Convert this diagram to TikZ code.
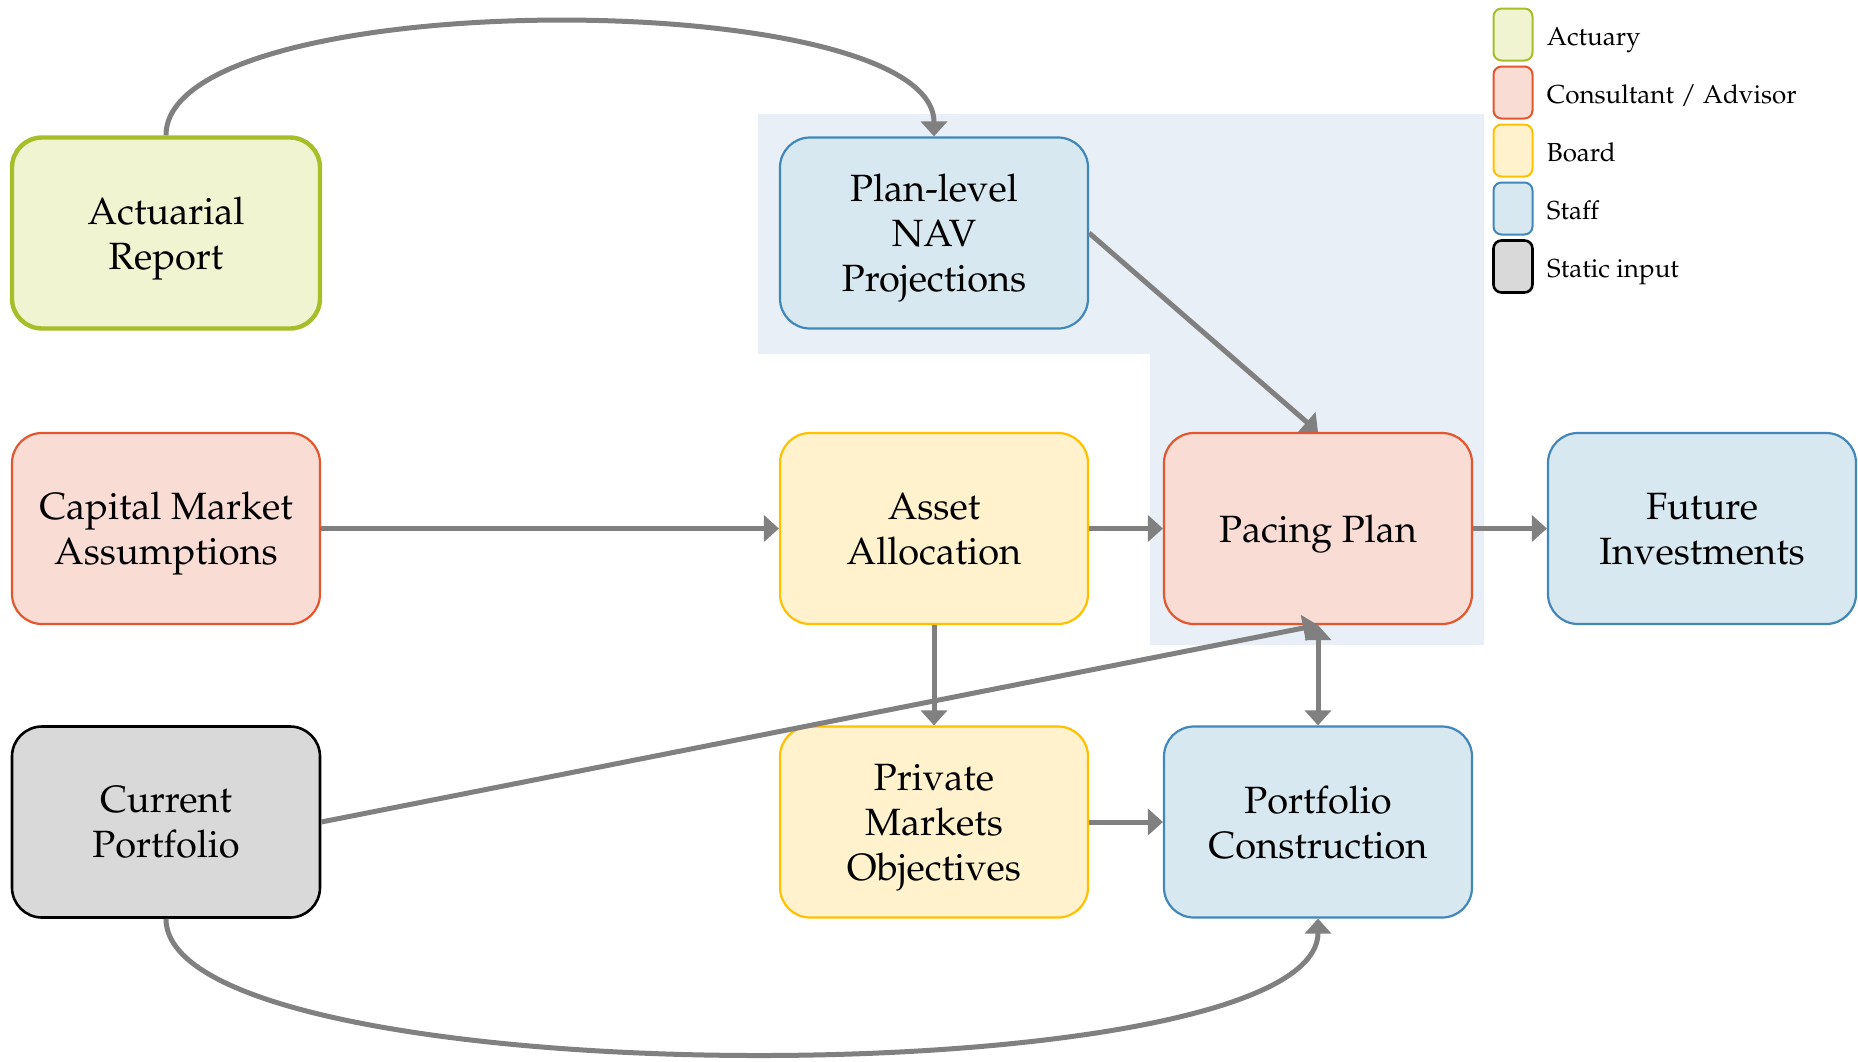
\documentclass[tikz,border=0pt]{standalone}
\usepackage[T1]{fontenc}
\renewcommand{\rmdefault}{ppl}
\usetikzlibrary{arrows.meta,positioning}
\definecolor{actfill}{RGB}{240,244,208}
\definecolor{actline}{RGB}{166,190,40}
\definecolor{conFill}{RGB}{249,220,212}
\definecolor{conline}{RGB}{228,86,46}
\definecolor{brdfill}{RGB}{255,242,204}
\definecolor{brdline}{RGB}{255,192,0}
\definecolor{stffill}{RGB}{216,232,240}
\definecolor{stfline}{RGB}{65,135,185}
\definecolor{stcfill}{RGB}{217,217,217}
\definecolor{shadefill}{RGB}{232,239,246}
\definecolor{arrgray}{RGB}{128,128,128}
\tikzset{
    >={Triangle[length=7.5pt,width=13pt]},
    box/.style={rounded corners=15pt,minimum width=154pt,minimum height=95.5pt,
        inner sep=0pt,align=center,text depth=0pt,line width=1.1pt,
        font=\fontsize{19}{22.5}\selectfont},
    actbox/.style={box,draw=actline,fill=actfill,line width=2.2pt},
    conbox/.style={box,draw=conline,fill=conFill},
    brdbox/.style={box,draw=brdline,fill=brdfill},
    stfbox/.style={box,draw=stfline,fill=stffill},
    stcbox/.style={box,draw=black,fill=stcfill,line width=1.3pt},
    arr/.style={draw=arrgray,line width=2.5pt,->},
    key/.style={rounded corners=4pt,minimum width=19.5pt,minimum height=26pt,
        inner sep=0pt,line width=1pt},
    keytext/.style={inner sep=0pt,text height=0.69em,text depth=0pt,yshift=-1.8pt,
        font=\fontsize{13}{15.5}\selectfont}
}
\begin{document}
\begin{tikzpicture}[x=0.5pt,y=-0.5pt]
        \useasboundingbox (0,0) rectangle (1858,1061);
        %% Staff area
        \fill[shadefill] (758,114) -| (1484,645) -| (1150,354) -| cycle;
        %% Boxes
        \node[actbox] (ar) at (166,233) {Actuarial\\Report};
        \node[conbox] (cma) at (166,528.5) {Capital Market\\Assumptions};
        \node[stcbox] (cp) at (166,822) {Current\\Portfolio};
        \node[stfbox] (nav) at (934,233) {Plan-level\\NAV\\Projections};
        \node[brdbox] (aa) at (934,528.5) {Asset\\Allocation};
        \node[brdbox] (pmo) at (934,822) {Private\\Markets\\Objectives};
        \node[conbox] (pp) at (1318,528.5) {Pacing Plan};
        \node[stfbox] (pc) at (1318,822) {Portfolio\\Construction};
        \node[stfbox] (fi) at (1702,528.5) {Future\\Investments};
        %% Arrows
        \draw[arr] (ar.north) .. controls +(0,-152) and +(0,-152) .. (nav.north);
        \draw[arr] (cma) to (aa);
        \draw[arr] (aa) to (pp);
        \draw[arr] (pp) to (fi);
        \draw[arr] (nav.east) to (pp.north);
        \draw[arr] (aa) to (pmo);
        \draw[arr] (pmo) to (pc);
        \draw[arr] (cp.east) to (pp.south);
        \draw[arr,<->] (pp) to (pc);
        \draw[arr] (cp.south) .. controls +(0,180) and +(0,180) .. (pc.south);
        %% Legend
        \node[key,draw=actline,fill=actfill] (kact) at (1513,34.5) {};
        \node[key,draw=conline,fill=conFill] (kcon) at (1513,92.5) {};
        \node[key,draw=brdline,fill=brdfill] (kbrd) at (1513,150.5) {};
        \node[key,draw=stfline,fill=stffill] (kstf) at (1513,208.5) {};
        \node[key,draw=black,fill=stcfill,line width=1.3pt] (kstc) at (1513,266.5) {};
        \node[keytext,right=6.5pt of kact] {Actuary};
        \node[keytext,right=6.5pt of kcon] {Consultant / Advisor};
        \node[keytext,right=6.5pt of kbrd] {Board};
        \node[keytext,right=6.5pt of kstf] {Staff};
        \node[keytext,right=6.5pt of kstc] {Static input};
    \end{tikzpicture}
\end{document}
